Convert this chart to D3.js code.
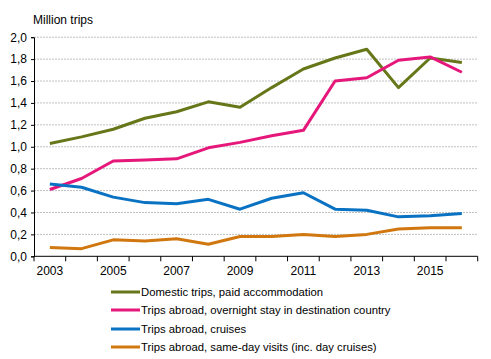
<!DOCTYPE html>
<html><head><meta charset="utf-8">
<script src="https://cdn.jsdelivr.net/npm/d3@7"></script>
<style>body{margin:0;background:#fff}svg{display:block;font-family:"Liberation Sans",Arial,sans-serif}</style>
</head><body>
<script>
const years = [2003,2004,2005,2006,2007,2008,2009,2010,2011,2012,2013,2014,2015,2016];
const domestic = [1.03,1.09,1.16,1.26,1.32,1.41,1.36,1.54,1.71,1.81,1.89,1.54,1.81,1.77];
const overnight = [0.61,0.71,0.87,0.88,0.89,0.99,1.04,1.10,1.15,1.60,1.63,1.79,1.82,1.68];
const cruises = [0.66,0.63,0.54,0.49,0.48,0.52,0.43,0.53,0.58,0.43,0.42,0.36,0.37,0.39];
const sameDay = [0.08,0.07,0.15,0.14,0.16,0.11,0.18,0.18,0.20,0.18,0.20,0.25,0.26,0.26];
const seriesNames = ["Domestic trips, paid accommodation","Trips abroad, overnight stay in destination country","Trips abroad, cruises","Trips abroad, same-day visits (inc. day cruises)"];
const colors = ["#667719","#e5177b","#0a72c2","#d0770f"];
const yTicks = [0,0.2,0.4,0.6,0.8,1.0,1.2,1.4,1.6,1.8,2.0];
const xLabelYears = [2003,2005,2007,2009,2011,2013,2015];
const series = [domestic, overnight, cruises, sameDay];

(function(){
const W=491,H=359;
const svg=d3.select("body").append("svg").attr("width",W).attr("height",H);
const mL=34,mR=477.7,mT=37.2,mB=256.3;
const x=d3.scaleBand().domain(years).range([mL,mR]);
const y=d3.scaleLinear().domain([0,2]).range([mB,mT]);

svg.append("g").selectAll("line").data(yTicks.filter(d=>d>0)).join("line")
 .attr("x1",mL).attr("x2",mR).attr("y1",d=>y(d)).attr("y2",d=>y(d))
 .attr("stroke","#c0c0c0").attr("stroke-width",1).attr("stroke-dasharray","2,1");

const fmt=d=>d3.format(".1f")(d).replace(".",",");
const ya=svg.append("g").attr("transform",`translate(${mL},0)`)
 .call(d3.axisLeft(y).tickValues(yTicks).tickFormat(fmt).tickSize(3).tickPadding(4));
ya.select(".domain").attr("stroke","#000");
ya.selectAll("text").attr("font-size",12).attr("fill","#000").attr("font-family","Liberation Sans, Arial, sans-serif");

const xa=svg.append("g").attr("transform",`translate(0,${mB})`);
xa.append("line").attr("x1",mL).attr("x2",mR).attr("stroke","#000");
const edges=years.map(d=>x(d)).concat([x(years[years.length-1])+x.bandwidth()]);
xa.selectAll("line.t").data(edges).join("line").attr("class","t")
 .attr("x1",d=>d).attr("x2",d=>d).attr("y1",0).attr("y2",5).attr("stroke","#000");
xa.selectAll("text").data(xLabelYears).join("text")
 .attr("x",d=>x(d)+x.bandwidth()/2).attr("y",19).attr("text-anchor","middle")
 .attr("font-size",12).text(d=>d);

svg.append("text").attr("x",33).attr("y",24).attr("font-size",12).text("Million trips");

const line=d3.line().x((d,i)=>x(years[i])+x.bandwidth()/2).y(d=>y(d));
series.forEach((s,i)=>{
 svg.append("path").datum(s).attr("d",line).attr("fill","none")
  .attr("stroke",colors[i]).attr("stroke-width",3).attr("stroke-linejoin","round");
});

const ly=[292,310,329,347];
seriesNames.forEach((n,i)=>{
 svg.append("line").attr("x1",111).attr("x2",140).attr("y1",ly[i]).attr("y2",ly[i])
  .attr("stroke",colors[i]).attr("stroke-width",3);
 svg.append("text").attr("x",141).attr("y",ly[i]+4).attr("font-size",11.3).text(n);
});
})();
</script>
</body></html>
